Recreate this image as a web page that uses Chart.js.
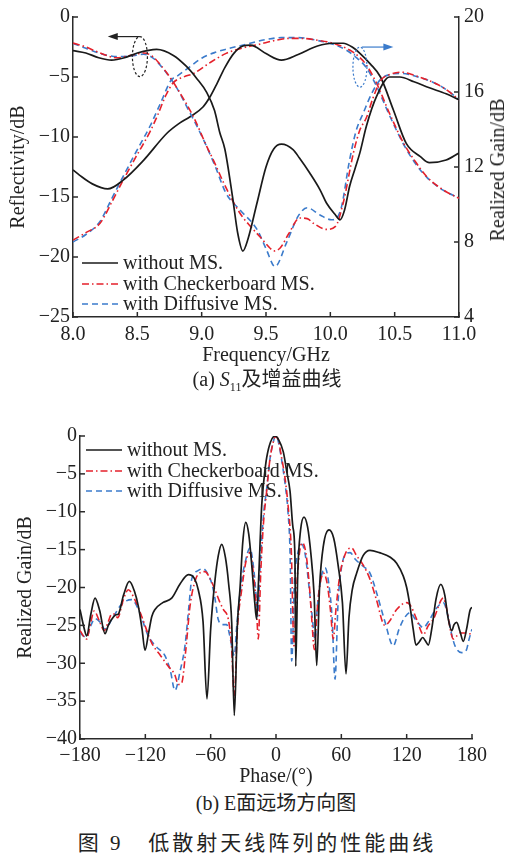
<!DOCTYPE html>
<html><head><meta charset="utf-8">
<script src="https://cdn.jsdelivr.net/npm/chart.js@4/dist/chart.umd.min.js"></script>
<style>
html,body{margin:0;padding:0;background:#fff;}
body{width:507px;height:858px;position:relative;overflow:hidden;font-family:"Liberation Serif","Noto Sans CJK SC",serif;color:#222;}
canvas{position:absolute;left:0;}
#ca{top:0;} #cb{top:400px;}
.t{position:absolute;white-space:nowrap;transform:translate(-50%,-50%);line-height:1;}
</style></head><body>
<canvas id="ca" width="507" height="372"></canvas>
<canvas id="cb" width="507" height="392"></canvas>
<div class="t" style="left:497px;top:170px;font-size:20px;transform:translate(-50%,-50%) rotate(-90deg);">Realized Gain/dB</div>
<div class="t" style="left:267px;top:381px;font-size:20px;">(a) <i>S</i><sub style="font-size:12px">11</sub>及增益曲线</div>
<div class="t" style="left:276px;top:803px;font-size:20px;">(b) E面远场方向图</div>
<div class="t" style="left:257px;top:843px;font-size:21px;letter-spacing:3px;">图 9&nbsp;&nbsp;&nbsp;低散射天线阵列的性能曲线</div>
<script>
// ---------- Chart (a) data ----------
const freqTicks = [8.0, 8.5, 9.0, 9.5, 10.0, 10.5, 11.0];
const reflTicks = [-25, -20, -15, -10, -5, 0];
const gainTicks = [4, 8, 12, 16, 20];
const legendLabels = ['without MS.', 'with Checkerboard MS.', 'with Diffusive MS.'];

const reflNoMS = [[8.0,-2.8],[8.1,-3.0],[8.2,-3.4],[8.3,-3.6],[8.4,-3.4],[8.5,-3.0],[8.65,-2.7],[8.78,-3.2],[8.88,-4.1],[8.96,-5.1],[9.04,-6.3],[9.1,-7.8],[9.14,-9.6],[9.18,-11.0],[9.24,-15.0],[9.28,-18.0],[9.32,-19.5],[9.36,-18.5],[9.43,-15.5],[9.5,-12.5],[9.56,-11.0],[9.62,-10.6],[9.71,-11.05],[9.76,-11.75],[9.84,-13.0],[9.92,-14.4],[9.97,-15.5],[10.04,-16.5],[10.075,-16.9],[10.11,-16.1],[10.15,-14.1],[10.19,-12.7],[10.23,-11.3],[10.28,-9.1],[10.36,-6.6],[10.46,-5.0],[10.54,-5.0],[10.65,-5.4],[10.77,-5.9],[10.9,-6.4],[11.0,-6.9]];
const reflChecker = [[8.0,-2.17],[8.1,-2.5],[8.2,-2.95],[8.34,-3.4],[8.45,-3.2],[8.55,-3.0],[8.62,-3.3],[8.68,-4.0],[8.73,-4.67],[8.83,-6.3],[8.94,-8.4],[9.04,-10.8],[9.09,-11.9],[9.17,-13.8],[9.25,-15.5],[9.32,-16.7],[9.38,-17.45],[9.46,-18.4],[9.53,-19.25],[9.56,-19.5],[9.61,-19.25],[9.68,-18.0],[9.76,-16.75],[9.82,-16.8],[9.87,-17.2],[9.97,-17.7],[10.04,-17.45],[10.1,-15.5],[10.18,-11.3],[10.23,-9.4],[10.28,-8.4],[10.33,-6.8],[10.39,-5.3],[10.46,-4.8],[10.55,-4.6],[10.65,-4.85],[10.83,-5.6],[10.92,-6.2],[11.0,-6.9]];
const reflDiffuse = [[8.0,-2.2],[8.1,-2.6],[8.2,-3.0],[8.34,-3.3],[8.45,-3.25],[8.55,-3.1],[8.62,-3.4],[8.7,-4.3],[8.8,-5.8],[8.9,-7.8],[9.0,-9.9],[9.1,-12.3],[9.19,-14.7],[9.3,-16.1],[9.43,-17.7],[9.5,-19.3],[9.57,-20.8],[9.66,-18.8],[9.75,-16.6],[9.82,-15.9],[9.92,-16.5],[10.01,-16.9],[10.08,-16.1],[10.15,-11.9],[10.2,-9.5],[10.26,-7.9],[10.32,-6.4],[10.39,-5.2],[10.46,-4.8],[10.55,-4.7],[10.65,-4.9],[10.83,-5.6],[10.92,-6.2],[11.0,-6.9]];

const gainNoMS = [[8.0,11.84],[8.05,11.57],[8.15,11.1],[8.27,10.83],[8.39,11.3],[8.55,12.37],[8.73,13.8],[8.82,14.3],[8.91,14.68],[9.01,15.2],[9.07,15.8],[9.12,16.46],[9.18,17.3],[9.25,18.06],[9.32,18.45],[9.38,18.5],[9.5,18.05],[9.62,17.7],[9.75,18.0],[9.9,18.45],[10.02,18.6],[10.1,18.6],[10.17,18.4],[10.23,18.06],[10.31,17.5],[10.39,16.8],[10.49,15.04],[10.59,13.26],[10.7,12.55],[10.77,12.23],[10.9,12.37],[11.0,12.75]];
const gainChecker = [[8.0,8.1],[8.1,8.5],[8.21,9.0],[8.31,10.24],[8.39,11.3],[8.49,12.55],[8.6,13.9],[8.66,14.8],[8.72,15.8],[8.78,16.5],[8.86,16.8],[8.94,17.0],[9.05,17.5],[9.19,18.06],[9.32,18.35],[9.45,18.55],[9.57,18.75],[9.69,18.86],[9.8,18.85],[9.89,18.77],[10.02,18.6],[10.15,18.24],[10.22,17.9],[10.28,17.44],[10.36,16.46],[10.46,14.86],[10.57,13.26],[10.66,12.3],[10.75,11.48],[10.88,10.77],[11.0,10.33]];
const gainDiffuse = [[8.0,8.0],[8.1,8.4],[8.21,9.1],[8.3,10.3],[8.39,11.5],[8.49,12.8],[8.6,14.2],[8.68,15.4],[8.76,16.6],[8.82,16.9],[8.9,17.3],[9.0,17.8],[9.1,18.1],[9.2,18.3],[9.35,18.55],[9.5,18.8],[9.62,18.9],[9.75,18.9],[9.9,18.75],[10.02,18.55],[10.12,18.25],[10.2,17.85],[10.28,17.3],[10.36,16.3],[10.46,14.75],[10.57,13.2],[10.66,12.2],[10.75,11.45],[10.88,10.75],[11.0,10.35]];

// ---------- Chart (b) data ----------
const phaseTicks = [-180, -120, -60, 0, 60, 120, 180];
const patTicks = [-40, -35, -30, -25, -20, -15, -10, -5, 0];

const patNoMS = [[-180,-22.9],[-176,-25.5],[-173.9,-26.4],[-170,-23.5],[-166.2,-21.4],[-162,-23.0],[-157,-26.1],[-154,-25.0],[-150.9,-24.2],[-147,-23.6],[-144.8,-23.5],[-140,-21.0],[-134.7,-19.2],[-130,-20.5],[-126.4,-22.5],[-123,-25.5],[-120.3,-28.3],[-117,-26.0],[-114,-23.8],[-111.1,-22.9],[-104,-22.0],[-95.8,-21.4],[-88,-19.5],[-80.5,-18.3],[-75,-18.8],[-71.4,-20.3],[-67,-24.5],[-63.4,-34.7],[-60,-25.5],[-56,-19.0],[-53,-15.8],[-49.9,-14.3],[-46.5,-16.0],[-43.5,-19.5],[-40.7,-24.6],[-38.3,-36.9],[-35.5,-25.0],[-33,-20.0],[-30.5,-14.0],[-27.8,-11.4],[-25,-13.0],[-22,-17.5],[-19.5,-22.0],[-17.8,-24.2],[-16,-19.0],[-13.1,-9.1],[-10.5,-5.0],[-8.6,-2.9],[-5,-0.8],[-1,0],[2.5,-0.5],[6.7,-2.1],[10,-4.8],[12.9,-7.3],[15.5,-12.0],[17.4,-16.1],[18.1,-30.4],[20,-18.0],[22.5,-12.5],[25.7,-10.7],[29,-12.0],[32,-15.5],[35,-21.0],[37.4,-30.3],[40,-20.0],[43.5,-14.5],[48.7,-12.4],[53,-13.5],[57,-17.0],[61,-22.0],[64.3,-31.4],[67,-24.0],[70,-20.3],[74.1,-18.1],[80,-15.8],[86.3,-15.1],[95,-15.4],[105,-16.0],[110.8,-16.8],[116.9,-18.5],[120,-20.0],[123.1,-22.5],[126,-25.5],[128.6,-27.6],[131.5,-27.2],[134.7,-26.6],[137,-27.0],[139.9,-27.6],[143,-25.5],[147,-21.5],[151.3,-19.6],[155,-21.0],[158,-24.0],[161.4,-25.7],[163.5,-24.9],[165.9,-24.6],[169,-25.8],[172,-27.1],[175,-25.5],[178.2,-23.0],[180,-22.6]];
const patChecker = [[-180,-25.7],[-174,-26.8],[-170,-24.5],[-167,-23.1],[-162,-24.5],[-157.7,-25.7],[-154,-24.5],[-150.9,-23.5],[-148,-23.5],[-145.4,-24.0],[-140,-21.5],[-135.6,-20.3],[-130,-21.5],[-123.4,-23.8],[-114.2,-27.3],[-106,-29.0],[-98.9,-30.4],[-93,-31.5],[-89.7,-32.8],[-86.6,-32.6],[-83,-28.5],[-79,-22.5],[-74,-19.0],[-69,-18.0],[-65.2,-17.9],[-60,-19.0],[-56,-20.3],[-52,-21.8],[-48.4,-22.9],[-43.8,-24.2],[-41,-27.5],[-38.3,-34.3],[-35.5,-25.5],[-31.5,-20.3],[-27.5,-16.5],[-23.9,-15.4],[-20.5,-18.5],[-18,-22.5],[-16.3,-26.8],[-14,-18.0],[-11.5,-11.5],[-8.6,-7.3],[-5.5,-3.0],[-2.5,-0.8],[-0.9,-0.1],[1.5,-0.3],[5.2,-2.9],[8.5,-5.8],[11.3,-9.5],[14,-15.0],[16.5,-27.7],[19,-20.0],[21.5,-15.5],[24.4,-14.1],[27.5,-15.5],[30.5,-19.5],[33,-24.5],[35.2,-28.2],[37.5,-23.5],[40,-20.0],[43.5,-18.1],[47,-19.5],[50,-23.0],[52.6,-26.8],[55,-23.0],[58.5,-18.5],[63,-15.8],[66.5,-14.9],[69.5,-14.8],[74,-15.8],[80,-17.0],[86.3,-18.9],[92,-21.5],[100,-25.0],[104,-24.5],[110.8,-22.9],[120,-22.0],[124,-22.5],[129.2,-24.2],[135.3,-26.2],[140,-25.0],[144.5,-24.2],[153.6,-21.4],[157,-23.0],[160,-25.5],[162.8,-26.8],[166,-26.4],[169,-26.0],[174,-26.0],[180,-26.2]];
const patDiffuse = [[-180,-26.0],[-174,-26.6],[-170,-25.0],[-166.2,-24.1],[-162,-24.5],[-157,-25.5],[-150,-24.0],[-141.7,-22.2],[-132.5,-21.6],[-126,-23.0],[-117.3,-26.4],[-110,-27.8],[-102,-29.0],[-97,-31.0],[-92.8,-33.6],[-88,-31.0],[-83.6,-27.7],[-80,-22.5],[-77.4,-18.9],[-72,-17.8],[-66.8,-17.5],[-62,-18.4],[-59.1,-19.4],[-56,-21.5],[-53.1,-24.2],[-49,-24.9],[-45.3,-24.9],[-43,-26.0],[-40.7,-27.7],[-38.3,-29.0],[-36,-25.0],[-32,-19.5],[-28.5,-16.8],[-23.9,-14.8],[-20.5,-17.5],[-18,-21.5],[-16.8,-23.8],[-14.5,-17.0],[-11.5,-10.5],[-8.6,-7.0],[-5.5,-3.0],[-2.5,-0.8],[-0.5,0],[1.5,-0.4],[5,-3.0],[8.5,-6.5],[11,-10.0],[13,-16.0],[14.4,-29.7],[17,-19.0],[20,-15.5],[23.6,-14.3],[27,-15.8],[30,-19.5],[33,-23.5],[35.8,-26.8],[38,-22.5],[41,-19.0],[45,-17.4],[48.5,-19.5],[51.5,-24.0],[54.2,-32.1],[57,-22.0],[60,-17.5],[64,-15.6],[68,-15.4],[73,-16.3],[80,-17.2],[86.3,-18.1],[93,-21.0],[100,-24.5],[107.7,-27.7],[113,-25.5],[118,-24.0],[123.1,-23.3],[128,-24.2],[135.3,-25.3],[140,-24.5],[147,-22.8],[153.6,-22.0],[158,-23.8],[161,-26.0],[164.4,-27.7],[170.5,-28.6],[175,-28.2],[177,-27.0],[180,-25.5]];

// ---------- styles ----------
const FONT = {family: '"Liberation Serif", "Times New Roman", serif', size: 20};
const TXT = '#222';
const AX = '#2a2a2a';
const styles = [
  {borderColor: '#1a1a1a', borderWidth: 1.7, borderDash: []},
  {borderColor: '#e5212b', borderWidth: 1.6, borderDash: [7, 3, 1.5, 3]},
  {borderColor: '#3b7bcb', borderWidth: 1.6, borderDash: [6, 4]}
];
const toXY = arr => arr.map(p => ({x: p[0], y: p[1]}));
const fmtNum = v => (v < 0 ? '\u2212' + Math.abs(v) : String(v));

function ds(arr, i, label, axis) {
  const d = Object.assign({data: toXY(arr), label: label, pointRadius: 0, fill: false,
    cubicInterpolationMode: 'monotone'}, styles[i]);
  if (axis) d.yAxisID = axis;
  return d;
}

const inTicks = {
  id: 'inTicks',
  afterDraw(chart) {
    const ctx = chart.ctx, ca = chart.chartArea, L = 5;
    ctx.save(); ctx.strokeStyle = AX; ctx.lineWidth = 1.5;
    Object.values(chart.scales).forEach(s => {
      s.ticks.forEach(t => {
        const p = s.getPixelForValue(t.value);
        ctx.beginPath();
        if (s.position === 'bottom') { ctx.moveTo(p, ca.bottom); ctx.lineTo(p, ca.bottom - L); }
        else if (s.position === 'left') { ctx.moveTo(ca.left, p); ctx.lineTo(ca.left + L, p); }
        else if (s.position === 'right') { ctx.moveTo(ca.right, p); ctx.lineTo(ca.right - L, p); }
        ctx.stroke();
      });
    });
    ctx.restore();
  }
};

function makeLegend(x0, yRows, fromTop) {
  return {
    id: 'customLegend',
    afterDraw(chart) {
      const ctx = chart.ctx, ca = chart.chartArea;
      ctx.save();
      ctx.font = FONT.size + 'px ' + FONT.family;
      ctx.fillStyle = TXT; ctx.textBaseline = 'middle'; ctx.textAlign = 'left';
      legendLabels.forEach((lab, i) => {
        const st = styles[i];
        const y = fromTop ? ca.top + yRows[i] : ca.bottom - yRows[i];
        ctx.strokeStyle = st.borderColor; ctx.lineWidth = st.borderWidth;
        ctx.setLineDash(st.borderDash);
        ctx.beginPath(); ctx.moveTo(ca.left + x0, y); ctx.lineTo(ca.left + x0 + 36, y); ctx.stroke();
        ctx.setLineDash([]);
        ctx.fillText(lab, ca.left + x0 + 41, y + 1);
      });
      ctx.restore();
    }
  };
}

const annot = {
  id: 'annot',
  afterDraw(chart) {
    const ctx = chart.ctx, sx = chart.scales.x, sy = chart.scales.y, sg = chart.scales.y1;
    ctx.save();
    let cx = sx.getPixelForValue(8.52), cy = sy.getPixelForValue(-3.3);
    ctx.strokeStyle = '#222'; ctx.lineWidth = 1.2; ctx.setLineDash([2.5, 2]);
    ctx.beginPath(); ctx.ellipse(cx, cy, 7.5, 20, 0, 0, Math.PI * 2); ctx.stroke();
    ctx.setLineDash([]);
    let ay = cy - 20, ax2 = sx.getPixelForValue(8.27);
    ctx.beginPath(); ctx.moveTo(cx, ay); ctx.lineTo(ax2 + 8, ay); ctx.stroke();
    ctx.fillStyle = '#222';
    ctx.beginPath(); ctx.moveTo(ax2, ay); ctx.lineTo(ax2 + 10, ay - 3.5); ctx.lineTo(ax2 + 10, ay + 3.5); ctx.closePath(); ctx.fill();
    cx = sx.getPixelForValue(10.23); cy = sg.getPixelForValue(17.33);
    ctx.strokeStyle = '#3b7bcb'; ctx.setLineDash([2, 2]);
    ctx.beginPath(); ctx.ellipse(cx, cy, 7, 20, 0, 0, Math.PI * 2); ctx.stroke();
    ctx.setLineDash([]);
    ay = cy - 20; ax2 = sx.getPixelForValue(10.49);
    ctx.beginPath(); ctx.moveTo(cx + 2, ay); ctx.lineTo(ax2 - 8, ay); ctx.stroke();
    ctx.fillStyle = '#3b7bcb';
    ctx.beginPath(); ctx.moveTo(ax2, ay); ctx.lineTo(ax2 - 10, ay - 3.5); ctx.lineTo(ax2 - 10, ay + 3.5); ctx.closePath(); ctx.fill();
    ctx.restore();
  }
};

function axisCommon(extra) {
  return Object.assign({
    type: 'linear',
    grid: {display: false, drawTicks: false},
    border: {display: true, color: AX, width: 1.5},
    ticks: {font: FONT, color: TXT, padding: 4}
  }, extra);
}

new Chart(document.getElementById('ca'), {
  type: 'line',
  data: {datasets: [
    ds(reflNoMS, 0, legendLabels[0], 'y'),
    ds(reflChecker, 1, legendLabels[1], 'y'),
    ds(reflDiffuse, 2, legendLabels[2], 'y'),
    ds(gainNoMS, 0, legendLabels[0], 'y1'),
    ds(gainChecker, 1, legendLabels[1], 'y1'),
    ds(gainDiffuse, 2, legendLabels[2], 'y1')
  ]},
  options: {
    responsive: false, animation: false, devicePixelRatio: 1,
    layout: {padding: {top: 17, left: 0, right: 0, bottom: 0}},
    plugins: {legend: {display: false}, tooltip: {enabled: false}},
    scales: {
      x: axisCommon({position: 'bottom', min: 8, max: 11,
        afterBuildTicks: s => { s.ticks = freqTicks.map(v => ({value: v})); },
        afterFit: s => { s.height = 55; },
        ticks: {font: FONT, color: TXT, padding: 6, maxRotation: 0, autoSkip: false, callback: v => Number(v).toFixed(1)},
        title: {display: true, text: 'Frequency/GHz', font: FONT, color: TXT, padding: {top: 0, bottom: 4}}
      }),
      y: axisCommon({position: 'left', min: -25, max: 0,
        afterBuildTicks: s => { s.ticks = reflTicks.map(v => ({value: v})); },
        afterFit: s => { s.width = 73; },
        ticks: {font: FONT, color: TXT, padding: 3, autoSkip: false, callback: v => fmtNum(v)},
        title: {display: true, text: 'Reflectivity/dB', font: FONT, color: TXT, padding: {top: 7, bottom: 0}}
      }),
      y1: axisCommon({position: 'right', min: 4, max: 20,
        afterBuildTicks: s => { s.ticks = gainTicks.map(v => ({value: v})); },
        afterFit: s => { s.width = 48; },
        ticks: {font: FONT, color: TXT, padding: 5, autoSkip: false, callback: v => fmtNum(v)}
      })
    }
  },
  plugins: [inTicks, makeLegend(9, [54, 33, 13], false), annot]
});

new Chart(document.getElementById('cb'), {
  type: 'line',
  data: {datasets: [
    ds(patNoMS, 0, legendLabels[0]),
    ds(patChecker, 1, legendLabels[1]),
    ds(patDiffuse, 2, legendLabels[2])
  ]},
  options: {
    responsive: false, animation: false, devicePixelRatio: 1,
    layout: {padding: {top: 36, left: 0, right: 35, bottom: 0}},
    plugins: {legend: {display: false}, tooltip: {enabled: false}},
    scales: {
      x: axisCommon({position: 'bottom', min: -180, max: 180,
        afterBuildTicks: s => { s.ticks = phaseTicks.map(v => ({value: v})); },
        afterFit: s => { s.height = 53; },
        ticks: {font: FONT, color: TXT, padding: 5, maxRotation: 0, autoSkip: false, callback: v => fmtNum(v)},
        title: {display: true, text: 'Phase/(\u00b0)', font: FONT, color: TXT, padding: {top: 0, bottom: 3}}
      }),
      y: axisCommon({position: 'left', min: -40, max: 0,
        afterBuildTicks: s => { s.ticks = patTicks.map(v => ({value: v})); },
        afterFit: s => { s.width = 80; },
        ticks: {font: FONT, color: TXT, padding: 3, autoSkip: false, callback: v => fmtNum(v)},
        title: {display: true, text: 'Realized Gain/dB', font: FONT, color: TXT, padding: {top: 14, bottom: 0}}
      })
    }
  },
  plugins: [inTicks, makeLegend(6, [14, 35, 55], true)]
});
</script>
</body></html>
